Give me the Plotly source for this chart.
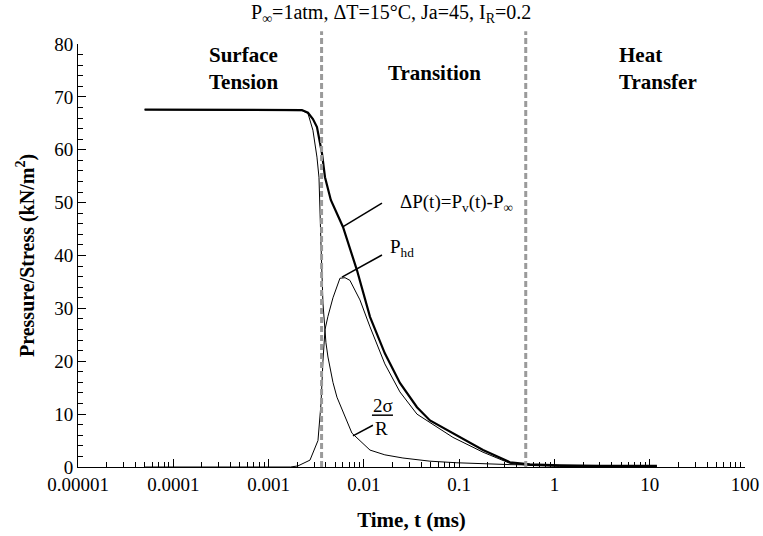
import numpy as np
import plotly.graph_objects as go

# ---- data ----
dp_t = [5e-5, 0.0021, 0.00224, 0.00259, 0.00292, 0.00322, 0.00363, 0.00391, 0.0045, 0.00604,
        0.00847, 0.0116, 0.0166, 0.0239, 0.0361, 0.0494, 0.0861, 0.178, 0.341, 0.553, 1.14, 3.0, 11.9]
dp_v = [67.6, 67.6, 67.5, 67.0, 65.8, 64.3, 59.4, 54.8, 50.5, 45.4,
        37.2, 28.4, 21.5, 15.9, 11.3, 8.8, 6.4, 3.2, 0.9, 0.5, 0.3, 0.2, 0.2]

st_t = [5e-5, 0.00224, 0.00259, 0.00292, 0.00322, 0.00338, 0.00355, 0.00372, 0.0040, 0.0042,
        0.00474, 0.00522, 0.0075, 0.0116, 0.0166, 0.0257, 0.0494, 0.0948, 0.341, 1.14, 11.9]
st_v = [67.6, 67.4, 66.9, 63.7, 58.6, 54.8, 42.0, 31.0, 23.5, 20.8,
        16.0, 13.2, 6.4, 3.2, 2.3, 1.7, 1.1, 0.8, 0.45, 0.3, 0.2]

hd_t = [5e-5, 0.0017, 0.00203, 0.00272, 0.0033, 0.00355, 0.00372, 0.00391, 0.0042, 0.00474,
        0.00561, 0.00634, 0.00714, 0.0091, 0.0116, 0.0166, 0.0239, 0.0361, 0.0861, 0.178,
        0.341, 0.553, 1.14, 11.9]
hd_v = [0, 0, 0.2, 1.3, 5, 12, 20, 26, 28.5, 32,
        35.7, 35.8, 35.3, 31.6, 26.5, 19.5, 14.2, 10.0, 5.6, 2.8,
        0.7, 0.3, 0.1, 0.05]

regime_bounds = [0.0036, 0.5]

x_tickvals = [1e-5, 1e-4, 1e-3, 1e-2, 1e-1, 1, 10, 100]
x_ticktext = ["0.00001", "0.0001", "0.001", "0.01", "0.1", "1", "10", "100"]

FONT = "Liberation Serif, Times New Roman, serif"
FS = 19
FB = 21

fig = go.Figure()
fig.add_trace(go.Scatter(x=st_t, y=st_v, mode="lines", line=dict(color="black", width=1), showlegend=False))
fig.add_trace(go.Scatter(x=hd_t, y=hd_v, mode="lines", line=dict(color="black", width=1), showlegend=False))
fig.add_trace(go.Scatter(x=dp_t, y=dp_v, mode="lines", line=dict(color="black", width=2.2), showlegend=False))

# regime boundaries
for b in regime_bounds:
    fig.add_shape(type="line", xref="x", yref="paper", x0=b, x1=b, y0=0, y1=1.03,
                  line=dict(color="#9a9a9a", width=3, dash="6px,3px"))

L = np.log10
# leader lines
leaders = [((0.0155, 49.9), (0.0060, 45.4)),
           ((0.0155, 40.1), (0.00589, 35.9)),
           ((0.01245, 7.9), (0.00769, 5.9))]
for (a, b) in leaders:
    fig.add_shape(type="line", xref="x", yref="y", x0=a[0], y0=a[1], x1=b[0], y1=b[1],
                  line=dict(color="black", width=1.5))
# fraction bar under 2σ
fig.add_shape(type="line", xref="x", yref="y", x0=0.01216, x1=0.0202, y0=9.8, y1=9.8,
              line=dict(color="black", width=1.5))

ann = [
    dict(x=L(0.0228), y=49.9, text="ΔP(t)=P<sub>v</sub>(t)-P<sub>∞</sub>", xanchor="left"),
    dict(x=L(0.0179), y=41.4, text="P<sub>hd</sub>", xanchor="left"),
    dict(x=L(0.0158), y=11.6, text="2σ", xanchor="center"),
    dict(x=L(0.0155), y=7.2, text="R", xanchor="center"),
]
for a in ann:
    fig.add_annotation(xref="x", yref="y", showarrow=False, yanchor="middle",
                       font=dict(family=FONT, size=FS, color="black"), **a)

fig.add_annotation(xref="paper", yref="paper", x=0.193, y=0.942, text="<b>Surface<br>Tension</b>",
                   showarrow=False, xanchor="left", yanchor="middle", align="left",
                   font=dict(family=FONT, size=FB, color="black"))
fig.add_annotation(xref="paper", yref="paper", x=0.535, y=0.931, text="<b>Transition</b>",
                   showarrow=False, xanchor="center", yanchor="middle",
                   font=dict(family=FONT, size=FB, color="black"))
fig.add_annotation(xref="paper", yref="paper", x=0.808, y=0.942, text="<b>Heat<br>Transfer</b>",
                   showarrow=False, xanchor="left", yanchor="middle", align="left",
                   font=dict(family=FONT, size=FB, color="black"))

# title
fig.add_annotation(xref="paper", yref="paper", x=0.47, y=1.0, yshift=31,
                   text="P<sub>∞</sub>=1atm, ΔT=15°C, Ja=45, I<sub>R</sub>=0.2",
                   showarrow=False, xanchor="center", yanchor="middle",
                   font=dict(family=FONT, size=FS + 1, color="black"))

minor_x = [m * 10.0 ** e for e in range(-5, 2) for m in range(2, 10)]

fig.update_layout(
    width=763, height=536,
    margin=dict(l=78, r=18, t=44, b=69),
    paper_bgcolor="white", plot_bgcolor="white",
    font=dict(family=FONT, size=FS, color="black"),
    xaxis=dict(type="log", range=[-5, 2], tickmode="array", tickvals=x_tickvals, ticktext=x_ticktext,
               ticks="inside", ticklen=8, tickcolor="black", tickwidth=1, automargin=False,
               showline=True, linecolor="black", linewidth=1, showgrid=False, zeroline=False,
               minor=dict(tickmode="array", tickvals=minor_x, ticks="inside", ticklen=5,
                          tickcolor="black", showgrid=False),
               title=dict(text="<b>Time, t (ms)</b>", font=dict(family=FONT, size=FB), standoff=18),
               tickfont=dict(family=FONT, size=FS)),
    yaxis=dict(range=[0, 80], dtick=10, tick0=0, ticks="inside", ticklen=8, tickcolor="black",
               automargin=False,
               showline=True, linecolor="black", linewidth=1, showgrid=False, zeroline=False,
               minor=dict(dtick=2, ticks="inside", ticklen=5, tickcolor="black", showgrid=False),
               title=dict(text="<b>Pressure/Stress (kN/m<sup>2</sup>)</b>", font=dict(family=FONT, size=FS + 1),
                          standoff=14),
               tickfont=dict(family=FONT, size=FS)),
)

fig.write_html("out.html", config={"displayModeBar": False},
               post_script="document.body.style.margin='0';document.body.style.padding='0';")
